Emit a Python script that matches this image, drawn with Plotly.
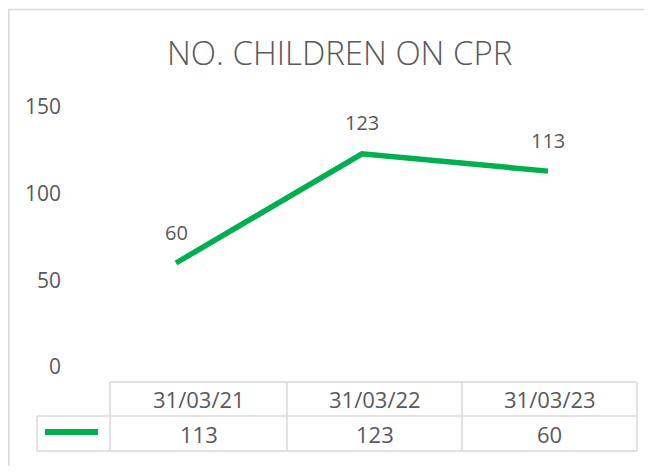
import plotly.graph_objects as go

# ---- data ----
title_text = "NO. CHILDREN ON CPR"
line_x = ["31/03/21", "31/03/22", "31/03/23"]
line_values = [60, 123, 113]
table_categories = ["31/03/21", "31/03/22", "31/03/23"]
table_values = [113, 123, 60]
y_ticks = [0, 50, 100, 150]

# figure is offset by the 8px page margin; work in reference-pixel coords
OX, OY = 8, 8
W, H = 652 - 2 * OX, 474 - 2 * OY
FONT = "Open Sans"
TXT = "#595959"
GREEN = "#00B050"
GRID = "#D9D9D9"


def px(x):
    return (x - OX) / W


def py(y):
    return 1 - (y - OY) / H


fig = go.Figure()
fig.add_trace(go.Scatter(
    x=list(range(len(line_x))), y=line_values, mode="lines",
    line=dict(color=GREEN, width=5.5), hoverinfo="skip", showlegend=False,
))

annotations = []
for i, v in enumerate(line_values):
    annotations.append(dict(x=i, y=v, xref="x", yref="y", text=str(v),
                            showarrow=False, yshift=31,
                            font=dict(family=FONT, size=20, color=TXT)))

annotations.append(dict(x=px(339), y=py(53), xref="paper", yref="paper",
                        text=title_text, showarrow=False,
                        xanchor="center", yanchor="middle",
                        font=dict(family=FONT, size=33, color=TXT, weight=300)))

col_edges = [110, 287, 462, 637]
row_top, row_mid, row_bot = 382, 416, 451
legend_left = 37
shapes = []
line_style = dict(color=GRID, width=1.5)
shapes.append(dict(type="rect", xref="paper", yref="paper",
                   x0=px(8.8), x1=px(720), y0=py(540), y1=py(9.5),
                   line=dict(color=GRID, width=1.5), fillcolor="rgba(0,0,0,0)"))
shapes.append(dict(type="line", xref="paper", yref="paper",
                   x0=px(col_edges[0]), x1=px(col_edges[-1]), y0=py(row_top), y1=py(row_top), line=line_style))
shapes.append(dict(type="line", xref="paper", yref="paper",
                   x0=px(legend_left), x1=px(col_edges[-1]), y0=py(row_mid), y1=py(row_mid), line=line_style))
shapes.append(dict(type="line", xref="paper", yref="paper",
                   x0=px(legend_left), x1=px(col_edges[-1]), y0=py(row_bot), y1=py(row_bot), line=line_style))
for xe in col_edges:
    shapes.append(dict(type="line", xref="paper", yref="paper",
                       x0=px(xe), x1=px(xe), y0=py(row_top), y1=py(row_bot), line=line_style))
shapes.append(dict(type="line", xref="paper", yref="paper",
                   x0=px(legend_left), x1=px(legend_left), y0=py(row_mid), y1=py(row_bot), line=line_style))
# legend key
shapes.append(dict(type="line", xref="paper", yref="paper",
                   x0=px(45), x1=px(98), y0=py(432), y1=py(432),
                   line=dict(color=GREEN, width=6)))

for i, (c, v) in enumerate(zip(table_categories, table_values)):
    cx = (col_edges[i] + col_edges[i + 1]) / 2
    annotations.append(dict(x=px(cx), y=py((row_top + row_mid) / 2), xref="paper", yref="paper",
                            text=c, showarrow=False, xanchor="center", yanchor="middle",
                            font=dict(family=FONT, size=22, color=TXT)))
    annotations.append(dict(x=px(cx), y=py((row_mid + row_bot) / 2), xref="paper", yref="paper",
                            text=str(v), showarrow=False, xanchor="center", yanchor="middle",
                            font=dict(family=FONT, size=22, color=TXT)))

x_left_px, x_right_px = 62, 637
p0, p2 = 176, 548
unit = (p2 - p0) / 2

fig.update_layout(
    width=W, height=H,
    margin=dict(l=0, r=0, t=0, b=0, autoexpand=False),
    paper_bgcolor="white", plot_bgcolor="white",
    showlegend=False,
    xaxis=dict(domain=[px(x_left_px), px(x_right_px)],
               range=[(x_left_px - p0) / unit, 2 + (x_right_px - p2) / unit],
               showgrid=False, zeroline=False, showticklabels=False, showline=False,
               fixedrange=True),
    yaxis=dict(domain=[py(367), py(107)], range=[0, 150],
               tickvals=y_ticks, ticktext=[str(t) for t in y_ticks],
               showgrid=False, zeroline=False, showline=False, ticks="",
               tickfont=dict(family=FONT, size=21, color=TXT), fixedrange=True),
    annotations=annotations,
    shapes=shapes,
)

fig.write_html("out.html")
